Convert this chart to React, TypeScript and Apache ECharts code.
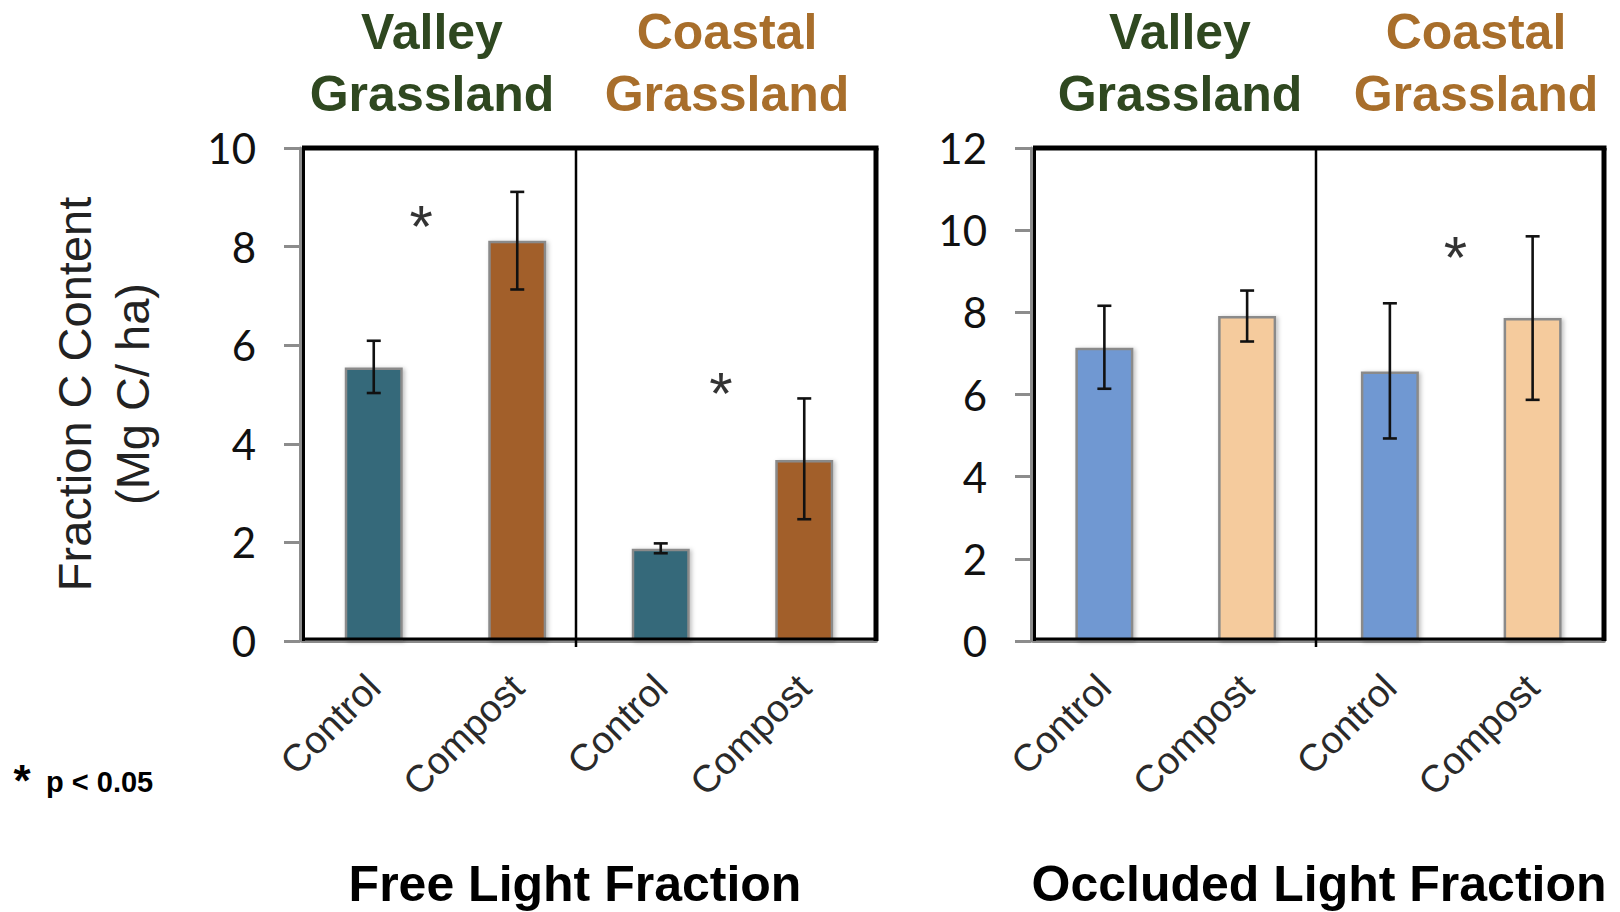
import React, { useEffect, useRef } from "react";
import * as echarts from "echarts";

// Treatment categories shown under each panel
const categories = ["Control", "Compost", "Control", "Compost"];

// Free light fraction C content (Mg C / ha): means and error bar ends
const freeMeans = [5.55, 8.12, 1.87, 3.67];
const freeLow = [5.03, 7.13, 1.78, 2.47];
const freeHigh = [6.09, 9.11, 1.98, 4.92];

// Occluded light fraction C content (Mg C / ha)
const occMeans = [7.14, 7.91, 6.56, 7.86];
const occLow = [6.14, 7.29, 4.93, 5.87];
const occHigh = [8.16, 8.53, 8.22, 9.85];

// Significance markers: [category position, value]
const freeStars = [
  [0.33, 8.6],
  [2.42, 5.2],
];
const occStars = [[2.46, 9.55]];

// Bar fills per category
const freeColors = ["#35697a", "#a25f2c", "#35697a", "#a25f2c"];
const occColors = ["#7098d2", "#f5cb9d", "#7098d2", "#f5cb9d"];

// Axis ranges
const freeMax = 10;
const occMax = 12;
const yInterval = 2;

// Site headings
const siteNames = [
  ["Valley", "Grassland"],
  ["Coastal", "Grassland"],
];
const siteColors = ["#2f4820", "#a86e2b"];
const panelTitles = ["Free Light Fraction", "Occluded Light Fraction"];

const panels = [
  { left: 302, top: 148, width: 574, height: 493, dividerX: 576, siteX: [432, 727], titleX: 575 },
  { left: 1033, top: 148, width: 571, height: 493, dividerX: 1316, siteX: [1180, 1476], titleX: 1319 },
];

const TICK_FONT = "Lato, 'Open Sans', 'DejaVu Sans', sans-serif";
const SANS = "'Liberation Sans', Arial, sans-serif";

function buildOption() {
  const grids = panels.map((p) => ({
    left: p.left,
    top: p.top,
    width: p.width,
    height: p.height,
    containLabel: false,
  }));

  const catAxis = (gridIndex: number) => ({
    type: "category",
    gridIndex,
    data: categories,
    axisLine: { show: true, onZero: false, lineStyle: { color: "#8a8a8a", width: 4 } },
    axisTick: { show: false },
    axisLabel: {
      rotate: 45,
      margin: 40,
      fontSize: 38,
      fontFamily: SANS,
      fontWeight: 300,
      color: "#2a2a2a",
      interval: 0,
    },
  });

  const hiddenValueX = (gridIndex: number) => ({
    type: "value",
    gridIndex,
    min: -0.5,
    max: 3.5,
    show: false,
  });

  const valAxis = (gridIndex: number, max: number) => ({
    type: "value",
    gridIndex,
    min: 0,
    max,
    interval: yInterval,
    offset: 2,
    axisLine: { show: true, onZero: false, lineStyle: { color: "#8c8c8c", width: 3 } },
    axisTick: { show: true, length: 16, lineStyle: { color: "#8c8c8c", width: 3 } },
    splitLine: { show: false },
    axisLabel: {
      margin: 44,
      fontSize: 42,
      fontFamily: TICK_FONT,
      color: "#111",
    },
  });

  const barSeries = (idx: number, means: number[], colors: string[]) => ({
    type: "bar",
    xAxisIndex: idx,
    yAxisIndex: idx,
    barWidth: 58,
    z: 2,
    data: means.map((v, i) => ({
      value: v,
      itemStyle: {
        color: colors[i],
        borderColor: "#8a8a8a",
        borderWidth: 2.5,
        shadowColor: "rgba(0,0,0,0.25)",
        shadowBlur: 4,
        shadowOffsetX: 2,
        shadowOffsetY: 1,
      },
    })),
  });

  const errSeries = (idx: number, low: number[], high: number[]) => ({
    type: "custom",
    xAxisIndex: idx,
    yAxisIndex: idx,
    z: 5,
    encode: { x: 0, y: [1, 2] },
    data: low.map((l, i) => [i, l, high[i]]),
    renderItem: (params: any, api: any) => {
      const x = api.value(0);
      const lo = api.coord([x, api.value(1)]);
      const hi = api.coord([x, api.value(2)]);
      const hw = 7;
      const st = { stroke: "#111", lineWidth: 2.6 };
      return {
        type: "group",
        children: [
          { type: "line", shape: { x1: lo[0], y1: lo[1], x2: hi[0], y2: hi[1] }, style: st },
          { type: "line", shape: { x1: lo[0] - hw, y1: lo[1], x2: lo[0] + hw, y2: lo[1] }, style: st },
          { type: "line", shape: { x1: hi[0] - hw, y1: hi[1], x2: hi[0] + hw, y2: hi[1] }, style: st },
        ],
      };
    },
  });

  const starSeries = (xIdx: number, yIdx: number, stars: number[][]) => ({
    type: "scatter",
    xAxisIndex: xIdx,
    yAxisIndex: yIdx,
    symbolSize: 1,
    itemStyle: { color: "rgba(0,0,0,0)" },
    z: 6,
    data: stars,
    label: {
      show: true,
      position: "inside",
      formatter: "*",
      fontSize: 60,
      fontFamily: SANS,
      color: "#000",
      offset: [0, 9],
    },
  });

  const graphic: any[] = [];

  // Panel frames and site dividers
  panels.forEach((p) => {
    const r = p.left + p.width;
    const b = p.top + p.height;
    graphic.push(
      { type: "line", z: 10, shape: { x1: p.left, y1: p.top, x2: r + 2.5, y2: p.top }, style: { stroke: "#000", lineWidth: 5 } },
      { type: "line", z: 10, shape: { x1: r, y1: p.top, x2: r, y2: b }, style: { stroke: "#000", lineWidth: 5 } },
      { type: "line", z: 10, shape: { x1: p.left + 1.5, y1: p.top, x2: p.left + 1.5, y2: b }, style: { stroke: "#000", lineWidth: 3 } },
      { type: "line", z: 10, shape: { x1: p.left, y1: b - 2, x2: r, y2: b - 2 }, style: { stroke: "#000", lineWidth: 3 } },
      { type: "line", z: 10, shape: { x1: p.dividerX, y1: p.top, x2: p.dividerX, y2: b + 6 }, style: { stroke: "#000", lineWidth: 2.5 } }
    );
  });

  // Site headings above each half of each panel
  panels.forEach((p) => {
    [0, 1].forEach((s) => {
      siteNames[s].forEach((line, li) => {
        graphic.push({
          type: "text",
          x: p.siteX[s],
          y: li === 0 ? 32 : 94,
          style: {
            text: line,
            fill: siteColors[s],
            font: `bold 50px ${SANS}`,
            textAlign: "center",
            textVerticalAlign: "middle",
          },
        });
      });
    });
  });

  // Panel titles
  panels.forEach((p, i) => {
    graphic.push({
      type: "text",
      x: p.titleX,
      y: 884,
      style: {
        text: panelTitles[i],
        fill: "#000",
        font: `bold 50px ${SANS}`,
        lineHeight: 44,
        textAlign: "center",
        textVerticalAlign: "middle",
      },
    });
  });

  // Y axis title (two lines, rotated)
  graphic.push(
    {
      type: "text",
      x: 74,
      y: 394,
      rotation: Math.PI / 2,
      style: { text: "Fraction C Content", fill: "#222", font: `300 47px ${SANS}`, textAlign: "center", textVerticalAlign: "middle" },
    },
    {
      type: "text",
      x: 132,
      y: 394,
      rotation: Math.PI / 2,
      style: { text: "(Mg C/ ha)", fill: "#222", font: `300 47px ${SANS}`, textAlign: "center", textVerticalAlign: "middle" },
    }
  );

  // Significance note
  graphic.push(
    {
      type: "text",
      x: 22,
      y: 780,
      style: { text: "*", fill: "#000", font: `bold 44px ${SANS}`, textAlign: "center", textVerticalAlign: "middle" },
    },
    {
      type: "text",
      x: 46,
      y: 782,
      style: { text: "p < 0.05", fill: "#000", font: `bold 29px ${SANS}`, textAlign: "left", textVerticalAlign: "middle" },
    }
  );

  return {
    animation: false,
    backgroundColor: "#fff",
    grid: grids,
    xAxis: [catAxis(0), catAxis(1), hiddenValueX(0), hiddenValueX(1)],
    yAxis: [valAxis(0, freeMax), valAxis(1, occMax)],
    series: [
      barSeries(0, freeMeans, freeColors),
      barSeries(1, occMeans, occColors),
      errSeries(0, freeLow, freeHigh),
      errSeries(1, occLow, occHigh),
      starSeries(2, 0, freeStars),
      starSeries(3, 1, occStars),
    ],
    graphic,
  };
}

export default function App() {
  const ref = useRef<HTMLDivElement>(null);
  useEffect(() => {
    if (!ref.current) return;
    const chart = echarts.init(ref.current, null, { renderer: "svg" });
    chart.setOption(buildOption() as any);
    return () => chart.dispose();
  }, []);
  return (
    <div
      ref={ref}
      style={{ position: "fixed", left: 0, top: 0, width: 1620, height: 912, background: "#fff" }}
    />
  );
}
